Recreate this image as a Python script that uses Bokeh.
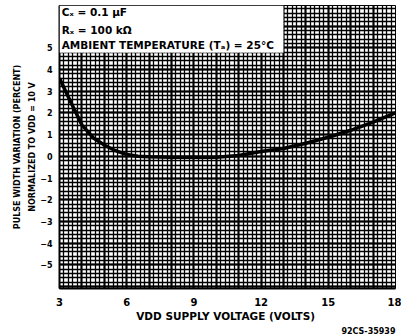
from bokeh.plotting import figure
from bokeh.models import (Range1d, FixedTicker, SingleIntervalTicker, Label,
                          BoxAnnotation, Title)
from bokeh.embed import file_html
from bokeh.resources import INLINE

# ---- data ----
vdd = [3, 3.5, 4, 4.5, 5, 5.5, 6, 6.5, 7, 8, 9, 10, 11, 12, 13, 14, 15, 16, 17, 18]
change_pct = [3.6, 2.5, 1.45, 0.86, 0.52, 0.26, 0.08, 0.0, -0.02, -0.04, -0.04,
              -0.04, 0.04, 0.22, 0.36, 0.6, 0.88, 1.2, 1.58, 2.0]
x_ticks = [3, 6, 9, 12, 15, 18]
y_ticks = [-5, -4, -3, -2, -1, 0, 1, 2, 3, 4, 5]
legend_lines = ["C\u2093 = 0.1 \u00b5F", "R\u2093 = 100 k\u03a9",
                "AMBIENT TEMPERATURE (T\u2090) = 25\u00b0C"]

FONT = "DejaVu Sans"

p = figure(width=401, height=335, output_backend="svg", toolbar_location=None,
           x_range=Range1d(3, 18), y_range=Range1d(-6.09, 6.95),
           min_border_left=59, min_border_right=6, min_border_top=5,
           min_border_bottom=43)
p.outline_line_color = "black"
p.outline_line_width = 1
p.background_fill_color = "white"

# grids: dense graph-paper look
p.xgrid.ticker = SingleIntervalTicker(interval=1, num_minor_ticks=5)
p.ygrid.ticker = SingleIntervalTicker(interval=1, num_minor_ticks=5)
for g in (p.xgrid, p.ygrid):
    g.grid_line_color = "black"
    g.grid_line_width = 2
    g.minor_grid_line_color = "black"
    g.minor_grid_line_width = 1.3

# axes
p.xaxis.ticker = FixedTicker(ticks=x_ticks)
p.yaxis.ticker = FixedTicker(ticks=y_ticks)
for ax in (p.xaxis, p.yaxis):
    ax.major_tick_out = 0
    ax.major_tick_in = 0
    ax.minor_tick_out = 0
    ax.minor_tick_in = 0
    ax.axis_line_color = "black"
    ax.axis_line_width = 2
    ax.major_label_text_font = FONT
    ax.major_label_text_font_style = "bold"
    ax.major_label_text_color = "black"
    ax.axis_label_text_font = FONT
    ax.axis_label_text_font_style = "bold"
    ax.axis_label_text_color = "black"
p.xaxis.major_label_text_font_size = "10px"
p.xaxis.major_label_standoff = 9
p.xaxis.axis_label = "VDD SUPPLY  VOLTAGE (VOLTS)"
p.xaxis.axis_label_text_font_size = "10.5px"
p.xaxis.axis_label_standoff = 1
p.yaxis.major_label_text_font_size = "8px"
p.yaxis.major_label_standoff = 7
p.yaxis.axis_label = "NORMALIZED TO VDD = 10 V"
p.yaxis.axis_label_text_font_size = "8px"
p.yaxis.axis_label_standoff = 0

# outer y title and figure code
p.add_layout(Title(text="PULSE WIDTH VARIATION (PERCENT)", align="center",
                   text_font=FONT, text_font_style="bold", text_font_size="8px",
                   text_color="black", standoff=8), "left")
p.add_layout(Title(text="92CS-35939", align="right", text_font=FONT,
                   text_font_style="bold", text_font_size="8px",
                   text_color="black", standoff=0), "below")

# curve
p.line(vdd, change_pct, line_color="black", line_width=3.5)

# legend box inside plot
p.add_layout(BoxAnnotation(left=3, right=13, bottom=4.77, top=6.95,
                           fill_color="white", fill_alpha=1,
                           line_color="black", line_dash="1 2", line_width=1))
for txt, yy in zip(legend_lines, [6.64, 5.82, 5.14]):
    p.add_layout(Label(x=3.1, y=yy, text=txt, text_font=FONT,
                       text_font_style="bold", text_font_size="10.5px",
                       text_baseline="middle", text_color="black"))

open("out.html", "w").write(file_html(p, INLINE))
